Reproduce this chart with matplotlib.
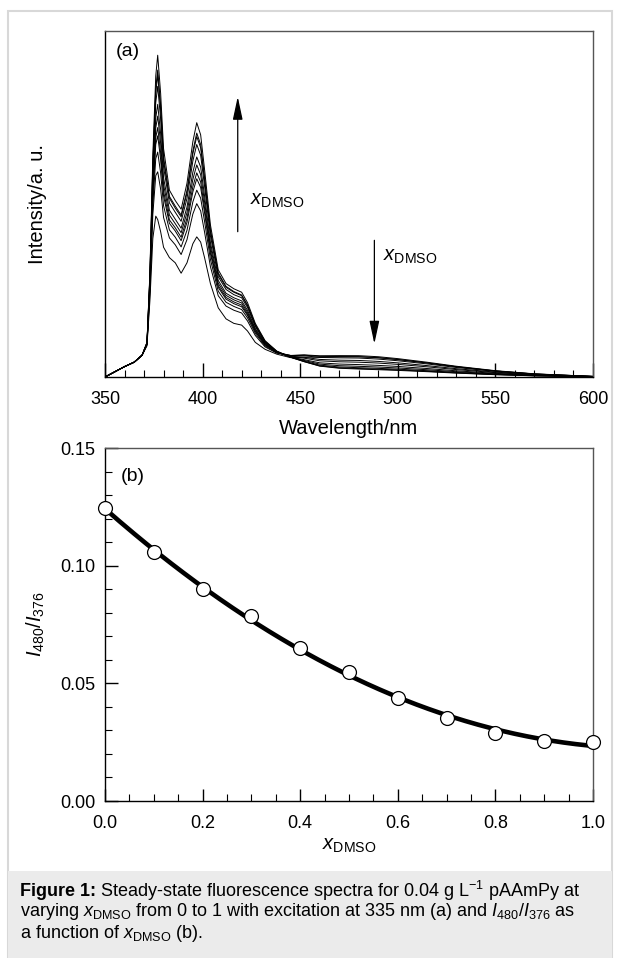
import numpy as np
import matplotlib
matplotlib.use("Agg")
import matplotlib.pyplot as plt
from matplotlib.patches import Rectangle

plt.rcParams['font.family'] = ['Liberation Sans', 'DejaVu Sans']
plt.rcParams['mathtext.fontset'] = 'custom'
plt.rcParams['mathtext.rm'] = 'Liberation Sans'
plt.rcParams['mathtext.it'] = 'Liberation Sans:italic'
plt.rcParams['mathtext.bf'] = 'Liberation Sans:bold'

# ---- panel (a): spectra, x_DMSO = 0 ... 1 (intensity in % of axis height)
wavelength = [350, 360, 365, 369, 371.5, 373, 374.5, 376, 377, 378.5, 380, 383, 386, 389, 392, 395,
              397, 399, 401, 404, 408, 412, 416, 420, 423, 427, 432, 438, 445, 452, 460,
              470, 480, 490, 500, 515, 530, 550, 570, 600]

s00 = [0, 3.0, 4.3, 6.3, 9, 22, 40, 46.5, 45.5,
       42, 37.5, 34.5, 33, 30, 33, 38.5, 40.5, 39, 34.5, 27, 20, 16.8, 15.5, 15.0, 13.3, 10, 8, 6.6,
       5.6, 5.75, 5.7, 5.83, 5.85, 5.57, 5.05, 4.06, 2.96, 1.74, 0.87, 0.17]
s01 = [0, 3.0, 4.3, 6.3, 9.3, 24.3, 47.0, 58.2, 59.3,
       54.3, 46.1, 40.2, 38.2, 35.4, 39.7, 47.1, 50.1, 48.0, 41.9, 31.9, 23.5, 20.5, 19.3, 18.5, 16.2, 12.0, 8.7, 6.9,
       6.2, 6.39, 6.14, 6.18, 6.16, 5.86, 5.31, 4.27, 3.11, 1.83, 0.92, 0.18]
s02 = [0, 3.0, 4.3, 6.3, 9.4, 25.3, 49.8, 63.1, 65.0,
       59.0, 49.5, 42.5, 40.4, 37.6, 42.4, 50.6, 54.0, 51.7, 45.0, 34.0, 24.8, 21.6, 20.4, 19.5, 17.1, 12.6, 9.0, 7.0,
       6.21, 6.32, 5.95, 5.91, 5.87, 5.57, 5.05, 4.06, 2.96, 1.74, 0.87, 0.17]
s03 = [0, 3.0, 4.3, 6.3, 9.5, 26.1, 52.2, 67.2, 69.7,
       62.9, 52.3, 44.4, 42.2, 39.4, 44.7, 53.5, 57.3, 54.8, 47.5, 35.7, 25.9, 22.5, 21.2, 20.3, 17.8, 13.1, 9.3, 7.1,
       6.24, 6.16, 5.65, 5.54, 5.48, 5.18, 4.7, 3.78, 2.75, 1.62, 0.81, 0.16]
s04 = [0, 3.0, 4.3, 6.3, 9.6, 26.5, 53.4, 69.2, 72.1,
       64.8, 53.7, 45.4, 43.1, 40.4, 45.9, 55.0, 59.0, 56.4, 48.8, 36.5, 26.4, 23.0, 21.7, 20.8, 18.2, 13.3, 9.4, 7.1,
       6.02, 5.71, 5.08, 4.87, 4.78, 4.51, 4.09, 3.29, 2.4, 1.41, 0.71, 0.14]
s05 = [0, 3.0, 4.3, 6.3, 9.6, 27.0, 55.1, 72.0, 75.4,
       67.6, 55.6, 46.8, 44.3, 41.7, 47.5, 57.1, 61.3, 58.5, 50.6, 37.7, 27.1, 23.6, 22.3, 21.4, 18.7, 13.7, 9.6, 7.2,
       5.94, 5.44, 4.68, 4.4, 4.28, 4.03, 3.65, 2.94, 2.14, 1.26, 0.63, 0.13]
s06 = [0, 3.0, 4.3, 6.3, 9.7, 27.6, 56.8, 74.9, 78.8,
       70.3, 57.6, 48.2, 45.6, 43.0, 49.1, 59.2, 63.6, 60.7, 52.4, 38.9, 27.9, 24.2, 22.9, 22.0, 19.3, 14.0, 9.8, 7.2,
       5.75, 5.01, 4.1, 3.74, 3.59, 3.36, 3.05, 2.45, 1.79, 1.05, 0.53, 0.11]
s07 = [0, 3.0, 4.3, 6.3, 9.8, 28.5, 59.4, 79.3, 84.0,
       74.6, 60.7, 50.3, 47.6, 45.0, 51.6, 62.4, 67.2, 64.1, 55.2, 40.8, 29.0, 25.3, 23.8, 22.9, 20.1, 14.6, 10.0, 7.3,
       5.75, 4.78, 3.73, 3.27, 3.09, 2.88, 2.61, 2.1, 1.53, 0.9, 0.45, 0.09]
s08 = [0, 3.0, 4.3, 6.3, 9.9, 29.0, 61.1, 82.1, 87.3,
       77.3, 62.6, 51.7, 48.8, 46.3, 53.2, 64.5, 69.5, 66.3, 56.9, 42.0, 29.7, 25.9, 24.5, 23.5, 20.6, 14.9, 10.2, 7.4,
       5.72, 4.58, 3.42, 2.9, 2.69, 2.5, 2.26, 1.82, 1.33, 0.78, 0.39, 0.08]
s09 = [0, 3.0, 4.3, 6.3, 9.9, 29.3, 61.8, 83.4, 88.7,
       78.5, 63.5, 52.2, 49.4, 46.8, 53.9, 65.3, 70.5, 67.2, 57.7, 42.5, 30.1, 26.2, 24.7, 23.7, 20.8, 15.1, 10.3, 7.4,
       5.68, 4.44, 3.22, 2.66, 2.45, 2.26, 2.04, 1.65, 1.2, 0.71, 0.35, 0.07]
s10 = [0, 3.0, 4.3, 6.3, 10, 30, 64, 87, 93,
       82, 66, 54, 51, 48.5, 56, 68, 73.5, 70, 60, 44, 31, 27, 25.5, 24.5, 21.5, 15.5, 10.5, 7.5,
       5.8, 4.45, 3.14, 2.53, 2.3, 2.11, 1.91, 1.54, 1.12, 0.66, 0.33, 0.07]
spectra = [s00, s01, s02, s03, s04, s05, s06, s07, s08, s09, s10]

# ---- panel (b): I480/I376 vs x_DMSO
x_dmso = [0.0, 0.1, 0.2, 0.3, 0.4, 0.5, 0.6, 0.7, 0.8, 0.9, 1.0]
ratio = [0.1244, 0.1057, 0.0901, 0.0785, 0.0650, 0.0547, 0.0439, 0.0352, 0.0289, 0.0256, 0.0250]

W, H = 620, 958
fig = plt.figure(figsize=(W / 100, H / 100), dpi=100)

# page frame and caption box
fig.patches.append(Rectangle((8 / W, 0), 604 / W, 1 - 11 / H, transform=fig.transFigure,
                             fill=False, ec='#d8d8d8', lw=1.5))
fig.patches.append(Rectangle((8 / W, 0), 604 / W, 87 / H, transform=fig.transFigure,
                             fc='#ebebeb', ec='none'))

ax1 = fig.add_axes([105 / W, 1 - 377 / H, 488 / W, 346 / H])
ax2 = fig.add_axes([105 / W, 1 - 801 / H, 488 / W, 353 / H])

for s in spectra:
    ax1.plot(wavelength, s, color='black', lw=0.7)

ax1.set_xlim(350, 600)
ax1.set_ylim(0, 100)
ax1.set_xticks([350, 400, 450, 500, 550, 600])
ax1.set_xticks(np.arange(350, 601, 10), minor=True)
ax1.set_yticks([])
ax1.tick_params(axis='x', which='major', direction='in', length=10, width=1, labelsize=13, pad=10)
ax1.tick_params(axis='x', which='minor', direction='in', length=5, width=0.8)
ax1.set_xlabel('Wavelength/nm', fontsize=14.5, labelpad=8)
ax1.set_ylabel('Intensity/a. u.', fontsize=14.5)
ax1.yaxis.set_label_coords(-0.119, 0.5)
ax1.text(0.022, 0.94, '(a)', transform=ax1.transAxes, fontsize=14, va='center')

arr = dict(arrowstyle='-|>,head_length=1.4,head_width=0.3', color='black', lw=0.9,
           shrinkA=0, shrinkB=0)
ax1.annotate('', xy=(418, 81), xytext=(418, 42), arrowprops=arr)
ax1.annotate('', xy=(488, 9.6), xytext=(488, 39.5), arrowprops=arr)
ax1.text(424.5, 51, r'$x_{\mathrm{DMSO}}$', fontsize=14.5, va='center')
ax1.text(492.5, 34.7, r'$x_{\mathrm{DMSO}}$', fontsize=14.5, va='center')

# quadratic fit through the measured ratios
coef = np.polyfit(x_dmso, ratio, 2)
xf = np.linspace(0, 1, 200)
ax2.plot(xf, np.polyval(coef, xf), color='black', lw=3.3)
ax2.plot(x_dmso, ratio, 'o', ms=10, mfc='white', mec='black', mew=0.9, clip_on=False, zorder=5)

ax2.set_xlim(0, 1)
ax2.set_ylim(0, 0.15)
ax2.set_xticks(np.arange(0, 1.01, 0.2))
ax2.set_xticks(np.arange(0, 1.01, 0.05), minor=True)
ax2.set_yticks([0, 0.05, 0.10, 0.15])
ax2.set_yticks(np.arange(0, 0.151, 0.01), minor=True)
ax2.set_xticklabels(['0.0', '0.2', '0.4', '0.6', '0.8', '1.0'])
ax2.set_yticklabels(['0.00', '0.05', '0.10', '0.15'])
ax2.tick_params(which='major', direction='in', length=9, width=1, labelsize=13, pad=7)
ax2.tick_params(axis='x', which='major', pad=10)
ax2.tick_params(which='minor', direction='in', length=5, width=0.8)
ax2.set_xlabel(r'$x_{\mathrm{DMSO}}$', fontsize=14.5, labelpad=3)
ax2.set_ylabel(r'$I_{480}/I_{376}$', fontsize=14.5)
ax2.yaxis.set_label_coords(-0.119, 0.5)
ax2.text(0.032, 0.92, '(b)', transform=ax2.transAxes, fontsize=14, va='center')

for ax in (ax1, ax2):
    for side in ('top', 'right'):
        ax.spines[side].set_color('#555555')
        ax.spines[side].set_linewidth(1.0)
    for side in ('left', 'bottom'):
        ax.spines[side].set_linewidth(1.0)

# caption
cap_y = [891, 912, 933]
head = fig.text(20 / W, 1 - cap_y[0] / H, 'Figure 1:', fontsize=13, fontweight='bold', va='center')
renderer = fig.canvas.get_renderer()
bb = head.get_window_extent(renderer)
fig.text(bb.x1 / W + 4 / W, 1 - cap_y[0] / H,
         r'Steady-state fluorescence spectra for 0.04 g L$^{-1}$ pAAmPy at', fontsize=13, va='center')
fig.text(20 / W, 1 - cap_y[1] / H,
         r'varying $x_{\mathrm{DMSO}}$ from 0 to 1 with excitation at 335 nm (a) and $I_{480}/I_{376}$ as',
         fontsize=13, va='center')
fig.text(20 / W, 1 - cap_y[2] / H, r'a function of $x_{\mathrm{DMSO}}$ (b).', fontsize=13, va='center')

fig.savefig('out.png', dpi=100)
